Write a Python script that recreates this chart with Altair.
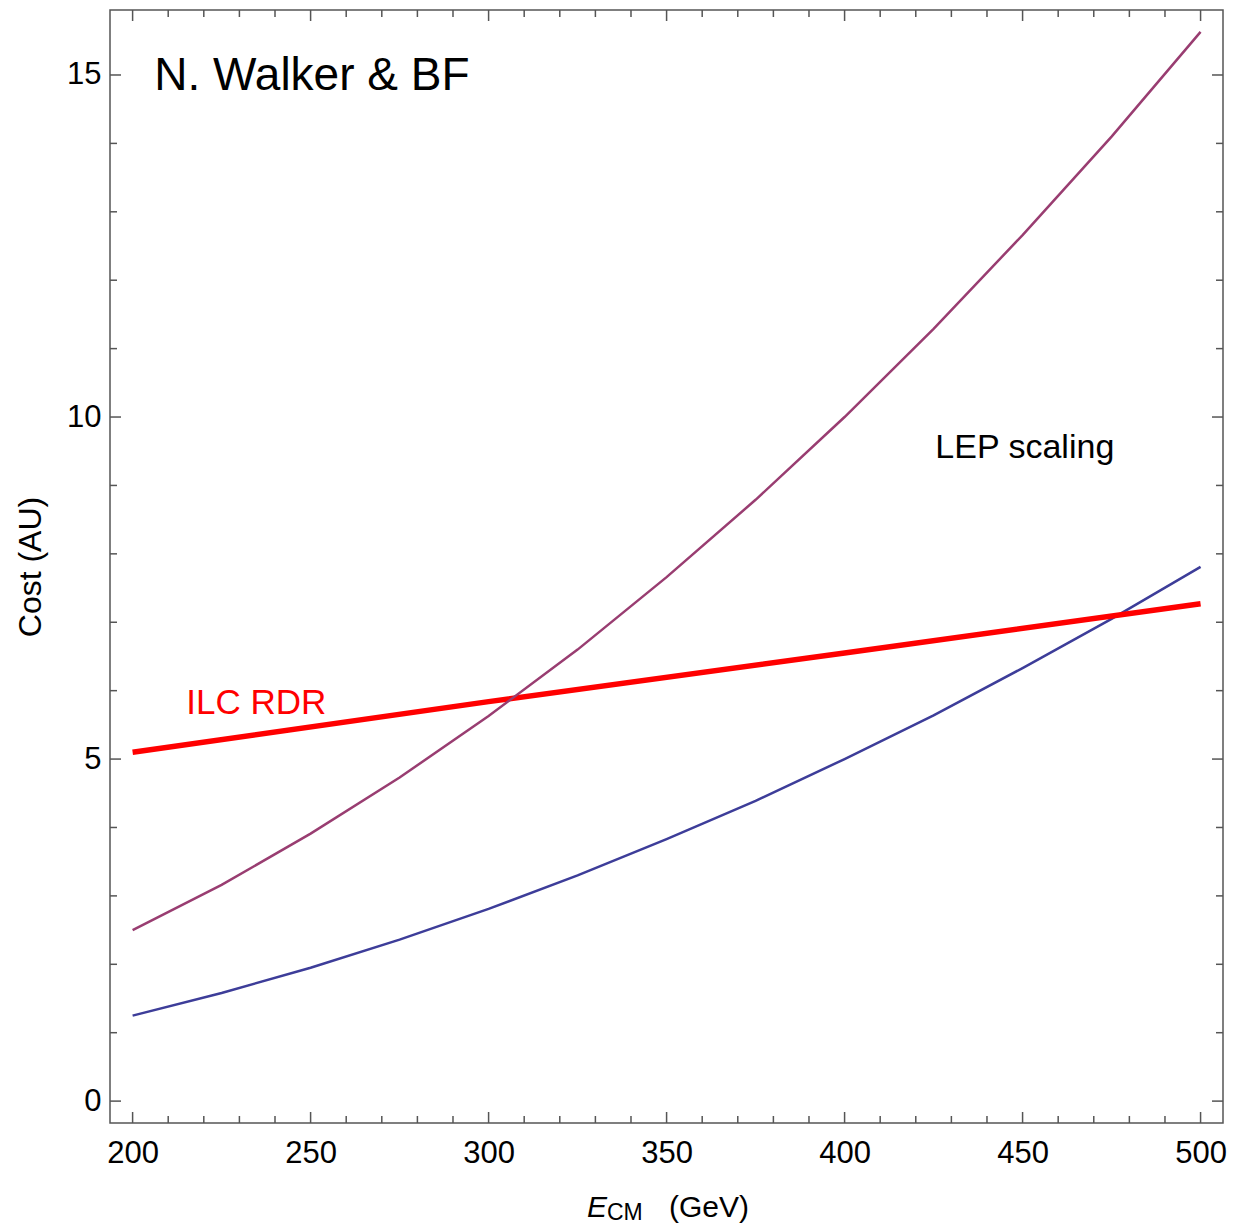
import altair as alt
import pandas as pd

# ---- data ----
energy = [200, 225, 250, 275, 300, 325, 350, 375, 400, 425, 450, 475, 500]
lep_upper = [2.50, 3.16, 3.91, 4.73, 5.63, 6.60, 7.66, 8.79, 10.00, 11.29, 12.66, 14.10, 15.63]
lep_lower = [1.25, 1.58, 1.95, 2.36, 2.81, 3.30, 3.83, 4.39, 5.00, 5.64, 6.33, 7.05, 7.81]
ilc_energy = [200, 300, 400, 500]
ilc_rdr = [5.10, 5.84, 6.55, 7.27]

x_major = [200, 250, 300, 350, 400, 450, 500]
x_minor = [210, 220, 230, 240, 260, 270, 280, 290, 310, 320, 330, 340,
           360, 370, 380, 390, 410, 420, 430, 440, 460, 470, 480, 490]
y_major = [0, 5, 10, 15]
y_minor = [1, 2, 3, 4, 6, 7, 8, 9, 11, 12, 13, 14]

notes_text = ["N. Walker & BF", "ILC RDR", "LEP scaling"]
notes_x = [206.1, 215.1, 425.5]
notes_y = [14.78, 5.66, 9.40]
notes_color = ["black", "red", "black"]
notes_size = [46, 35, 34]

W = 1113
H = 1113
FONT = "Liberation Sans"
FRAME = "#555555"

xscale = alt.Scale(domain=[193.65, 506.3], nice=False, zero=False)
yscale = alt.Scale(domain=[-0.32, 15.95], nice=False, zero=False)
xaxis = alt.Axis(values=x_major, ticks=False, tickSize=0, domain=False, grid=False,
                 labelFontSize=31, labelPadding=15, labelFont=FONT, labelColor="black",
                 labelFlush=False, labelOverlap=False, title=None)
yaxis = alt.Axis(values=y_major, ticks=False, tickSize=0, domain=False, grid=False,
                 labelFontSize=31, labelPadding=9, labelFont=FONT, labelColor="black",
                 labelFlush=False, labelOverlap=False, title=None)

X = lambda: alt.X("E:Q", scale=xscale, axis=xaxis)
Y = lambda: alt.Y("cost:Q", scale=yscale, axis=yaxis)

df_upper = pd.DataFrame({"E": energy, "cost": lep_upper})
df_lower = pd.DataFrame({"E": energy, "cost": lep_lower})
df_ilc = pd.DataFrame({"E": ilc_energy, "cost": ilc_rdr})

lower = alt.Chart(df_lower).mark_line(color="#3D3D99", strokeWidth=2.5).encode(x=X(), y=Y())
ilc = alt.Chart(df_ilc).mark_line(color="#FF0000", strokeWidth=5.5).encode(x=X(), y=Y())
upper = alt.Chart(df_upper).mark_line(color="#993D71", strokeWidth=2.5).encode(x=X(), y=Y())

layers = [lower, ilc, upper]

# annotations
for t, xv, yv, c, s in zip(notes_text, notes_x, notes_y, notes_color, notes_size):
    d = pd.DataFrame({"E": [xv], "cost": [yv], "label": [t]})
    layers.append(
        alt.Chart(d).mark_text(align="left", baseline="alphabetic", font=FONT,
                               fontSize=s, color=c)
        .encode(x=X(), y=Y(), text="label:N")
    )

# inward frame ticks
def xticks(vals, length):
    d = pd.DataFrame({"E": vals})
    bottom = alt.Chart(d).mark_rule(color=FRAME, strokeWidth=1.5).encode(
        x=X(), y=alt.value(H), y2=alt.value(H - length))
    top = alt.Chart(d).mark_rule(color=FRAME, strokeWidth=1.5).encode(
        x=X(), y=alt.value(0), y2=alt.value(length))
    return [bottom, top]

def yticks(vals, length):
    d = pd.DataFrame({"cost": vals})
    left = alt.Chart(d).mark_rule(color=FRAME, strokeWidth=1.5).encode(
        y=Y(), x=alt.value(0), x2=alt.value(length))
    right = alt.Chart(d).mark_rule(color=FRAME, strokeWidth=1.5).encode(
        y=Y(), x=alt.value(W), x2=alt.value(W - length))
    return [left, right]

layers += xticks(x_major, 11) + xticks(x_minor, 7)
layers += yticks(y_major, 11) + yticks(y_minor, 7)

# axis titles
one = alt.Data(values=[{}])
layers.append(alt.Chart(one).mark_text(align="left", baseline="alphabetic", font=FONT,
                                       fontSize=30, fontStyle="italic", color="black")
              .encode(x=alt.value(477), y=alt.value(1207), text=alt.value("E")))
layers.append(alt.Chart(one).mark_text(align="left", baseline="alphabetic", font=FONT,
                                       fontSize=23, color="black")
              .encode(x=alt.value(497), y=alt.value(1210), text=alt.value("CM")))
layers.append(alt.Chart(one).mark_text(align="left", baseline="alphabetic", font=FONT,
                                       fontSize=30, color="black")
              .encode(x=alt.value(559), y=alt.value(1207), text=alt.value("(GeV)")))
layers.append(alt.Chart(one).mark_text(align="center", baseline="alphabetic", font=FONT,
                                       fontSize=32, angle=270, color="black")
              .encode(x=alt.value(-69), y=alt.value(557), text=alt.value("Cost (AU)")))

chart = alt.layer(*layers).properties(
    width=W, height=H,
    autosize=alt.AutoSizeParams(type="none"),
    padding={"left": 110, "top": 10, "right": 15, "bottom": 101},
    background="white",
).configure_view(stroke=FRAME, strokeWidth=1.5)

chart.save("out.html", embed_options={"renderer": "svg", "actions": False})
